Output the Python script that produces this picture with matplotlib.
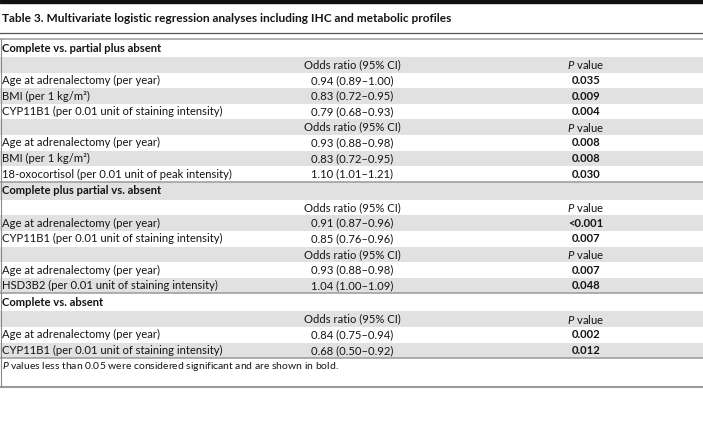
import matplotlib
matplotlib.use("Agg")
import matplotlib.pyplot as plt

plt.rcParams['font.family'] = ['Lato', 'DejaVu Sans']
plt.rcParams['mathtext.fontset'] = 'custom'
plt.rcParams['mathtext.rm'] = 'Lato'
plt.rcParams['mathtext.it'] = 'Lato:italic'
plt.rcParams['mathtext.bf'] = 'Lato:bold'

title = "Table 3. Multivariate logistic regression analyses including IHC and metabolic profiles"
footnote = r"$\mathit{P}$ values less than 0.05 were considered significant and are shown in bold."

section_titles = ["Complete vs. partial plus absent",
                  "Complete plus partial vs. absent",
                  "Complete vs. absent"]

# which section each model belongs to
model_section = [0, 0, 1, 1, 2]

model_vars = [
    ["Age at adrenalectomy (per year)", "BMI (per 1 kg/m²)",
     "CYP11B1 (per 0.01 unit of staining intensity)"],
    ["Age at adrenalectomy (per year)", "BMI (per 1 kg/m²)",
     "18-oxocortisol (per 0.01 unit of peak intensity)"],
    ["Age at adrenalectomy (per year)",
     "CYP11B1 (per 0.01 unit of staining intensity)"],
    ["Age at adrenalectomy (per year)",
     "HSD3B2 (per 0.01 unit of staining intensity)"],
    ["Age at adrenalectomy (per year)",
     "CYP11B1 (per 0.01 unit of staining intensity)"],
]
model_or = [[0.94, 0.83, 0.79], [0.93, 0.83, 1.10], [0.91, 0.85], [0.93, 1.04], [0.84, 0.68]]
model_ci_low = [[0.89, 0.72, 0.68], [0.88, 0.72, 1.01], [0.87, 0.76], [0.88, 1.00], [0.75, 0.50]]
model_ci_high = [[1.00, 0.95, 0.93], [0.98, 0.95, 1.21], [0.96, 0.96], [0.98, 1.09], [0.94, 0.92]]
model_p = [["0.035", "0.009", "0.004"], ["0.008", "0.008", "0.030"],
           ["<0.001", "0.007"], ["0.007", "0.048"], ["0.002", "0.012"]]

or_header = "Odds ratio (95% CI)"
p_header = r"$\mathit{P}$ value"

# layout (pixels)
W, H = 703, 436
x_label, x_or, x_p = 2, 352, 586
table_top = 39
header_h = 18
row_h = 15.6
stripe = '#e1e1e1'
txt = '#151515'
fs = 8.1

fig = plt.figure(figsize=(W / 100, H / 100), dpi=100)
ax = fig.add_axes([0, 0, 1, 1])
ax.set_xlim(0, W)
ax.set_ylim(H, 0)
ax.axis('off')

# top bar + title
ax.axhspan(0, 3.5, color='#111111')
ax.text(x_label, 18, title, fontsize=8.6, fontweight='bold', color=txt, va='center')
ax.axhline(33, color='#555555', lw=0.9)
ax.axhline(39, color='#9a9a9a', lw=1.1)

y = table_top
row_i = 0
for s, name in enumerate(section_titles):
    if s > 0:
        ax.axhline(y, color='#9a9a9a', lw=1.1)
    if row_i % 2 == 1:
        ax.axhspan(y, y + header_h, color=stripe, lw=0)
    ax.text(x_label, y + header_h / 2, name, fontsize=fs, fontweight='bold', color=txt, va='center')
    y += header_h
    row_i += 1
    for m, sec in enumerate(model_section):
        if sec != s:
            continue
        rows = [(None, or_header, p_header)]
        for v, o, lo, hi, p in zip(model_vars[m], model_or[m], model_ci_low[m],
                                   model_ci_high[m], model_p[m]):
            rows.append((v, f"{o:.2f} ({lo:.2f}–{hi:.2f})", p))
        for k, (v, o, p) in enumerate(rows):
            if row_i % 2 == 1:
                ax.axhspan(y, y + row_h, color=stripe, lw=0)
            yc = y + row_h / 2
            if v is not None:
                ax.text(x_label, yc, v, fontsize=fs, color=txt, va='center')
            ax.text(x_or, yc, o, fontsize=fs, color=txt, va='center', ha='center')
            ax.text(x_p, yc, p, fontsize=fs, color=txt, va='center', ha='center',
                    fontweight='normal' if v is None else 'bold')
            y += row_h
            row_i += 1

ax.axhline(y, color='#9a9a9a', lw=1.1)
ax.text(x_label, y + 8.5, footnote, fontsize=7.5, color=txt, va='center')
ax.axhline(387, color='#9a9a9a', lw=1.5)
ax.plot([0.5, 0.5], [table_top, 387], color='#8a8a8a', lw=0.8)

fig.savefig('out.png', dpi=100)
